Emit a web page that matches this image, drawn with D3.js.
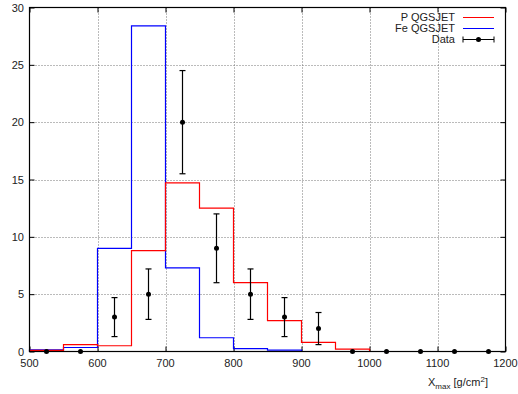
<!DOCTYPE html>
<html>
<head>
<meta charset="utf-8">
<script src="https://cdn.jsdelivr.net/npm/d3@7"></script>
<style>
  body { margin: 0; background: #fff; }
  svg text { font-family: "Liberation Sans", Arial, sans-serif; font-size: 11px; fill: #222; }
</style>
</head>
<body>
<svg id="chart" width="518" height="394"></svg>
<script>
// bin edges (g/cm2), 50 wide
const binEdges = [500, 550, 600, 650, 700, 750, 800, 850, 900, 950, 1000, 1050, 1100, 1150, 1200];
const pQgsjet  = [0.1, 0.6, 0.5, 8.8, 14.7, 12.5, 6.0, 2.7, 0.8, 0.2, 0, 0, 0, 0];
const feQgsjet = [0.15, 0.35, 9.0, 28.4, 7.3, 1.2, 0.25, 0.12, 0, 0, 0, 0, 0, 0];
// data points at bin centres
const dataX    = [525, 575, 625, 675, 725, 775, 825, 875, 925, 975, 1025, 1075, 1125, 1175];
const dataY    = [0, 0, 3, 5, 20, 9, 5, 3, 2, 0, 0, 0, 0, 0];
const dataLow  = [0, 0, 1.3, 2.8, 15.5, 6.0, 2.8, 1.3, 0.6, 0, 0, 0, 0, 0];
const dataHigh = [0, 0, 4.7, 7.2, 24.5, 12.0, 7.2, 4.7, 3.4, 0, 0, 0, 0, 0];
const xTicks = [500, 600, 700, 800, 900, 1000, 1100, 1200];
const yTicks = [0, 5, 10, 15, 20, 25, 30];

const svg = d3.select("#chart");
const mLeft = 29.5, mRight = 505.5, mTop = 7.5, mBottom = 351.5;

const x = d3.scaleLinear().domain([500, 1200]).range([mLeft, mRight]);
const y = d3.scaleLinear().domain([0, 30]).range([mBottom, mTop]);

// grid
const grid = svg.append("g").attr("stroke", "#777").attr("stroke-width", 1).attr("stroke-dasharray", "1,2");
grid.selectAll("line.gx").data(xTicks.slice(1, -1)).enter().append("line")
  .attr("x1", d => Math.round(x(d)) + 0.5).attr("x2", d => Math.round(x(d)) + 0.5)
  .attr("y1", mTop).attr("y2", mBottom);
grid.selectAll("line.gy").data(yTicks.slice(1, -1)).enter().append("line")
  .attr("y1", d => Math.round(y(d)) + 0.5).attr("y2", d => Math.round(y(d)) + 0.5)
  .attr("x1", mLeft).attr("x2", mRight);

// axes (ticks pointing inward, mirrored)
const axB = svg.append("g").attr("transform", "translate(0," + mBottom + ")")
  .call(d3.axisTop(x).tickValues(xTicks).tickSize(5).tickFormat(""));
const axT = svg.append("g").attr("transform", "translate(0," + mTop + ")")
  .call(d3.axisBottom(x).tickValues(xTicks).tickSize(5).tickFormat(""));
const axL = svg.append("g").attr("transform", "translate(" + mLeft + ",0)")
  .call(d3.axisRight(y).tickValues(yTicks).tickSize(5).tickFormat(""));
const axR = svg.append("g").attr("transform", "translate(" + mRight + ",0)")
  .call(d3.axisLeft(y).tickValues(yTicks).tickSize(5).tickFormat(""));
[axB, axT, axL, axR].forEach(a => { a.select(".domain").remove(); a.selectAll("line").attr("stroke", "#000"); });

// tick labels
svg.selectAll("text.xl").data(xTicks).enter().append("text")
  .attr("x", d => x(d)).attr("y", 367).attr("text-anchor", "middle").text(d => d);
svg.selectAll("text.yl").data(yTicks).enter().append("text")
  .attr("x", 24).attr("y", d => y(d) + 4).attr("text-anchor", "end").text(d => d);

// histograms as steps
function stepLine(vals) {
  const pts = [[binEdges[0], 0]];
  vals.forEach((v, i) => { pts.push([binEdges[i], v]); pts.push([binEdges[i + 1], v]); });
  return d3.line().x(d => x(d[0])).y(d => y(d[1]))(pts);
}
svg.append("path").attr("d", stepLine(feQgsjet)).attr("fill", "none").attr("stroke", "#0000ff").attr("stroke-width", 1.2);
svg.append("path").attr("d", stepLine(pQgsjet)).attr("fill", "none").attr("stroke", "#ff0000").attr("stroke-width", 1.2);

// data with error bars
const pts = svg.append("g");
dataX.forEach((dx, i) => {
  const cx = x(dx);
  if (dataHigh[i] > dataLow[i]) {
    pts.append("line").attr("x1", cx).attr("x2", cx).attr("y1", y(dataLow[i])).attr("y2", y(dataHigh[i])).attr("stroke", "#000").attr("stroke-width", 1.2);
    [dataLow[i], dataHigh[i]].forEach(v => pts.append("line").attr("x1", cx - 3).attr("x2", cx + 3)
      .attr("y1", y(v)).attr("y2", y(v)).attr("stroke", "#000").attr("stroke-width", 1.2));
  }
  pts.append("circle").attr("cx", cx).attr("cy", y(dataY[i])).attr("r", 2.5).attr("fill", "#000");
});

// frame
svg.append("rect").attr("x", mLeft).attr("y", mTop).attr("width", mRight - mLeft).attr("height", mBottom - mTop)
  .attr("fill", "none").attr("stroke", "#000").attr("stroke-width", 1.2);

// legend
const lg = svg.append("g");
lg.append("text").attr("x", 455).attr("y", 21).attr("text-anchor", "end").text("P QGSJET");
lg.append("line").attr("x1", 463).attr("x2", 494).attr("y1", 17.5).attr("y2", 17.5).attr("stroke", "#ff0000");
lg.append("text").attr("x", 455).attr("y", 32).attr("text-anchor", "end").text("Fe QGSJET");
lg.append("line").attr("x1", 463).attr("x2", 494).attr("y1", 28.5).attr("y2", 28.5).attr("stroke", "#0000ff");
lg.append("text").attr("x", 455).attr("y", 43).attr("text-anchor", "end").text("Data");
lg.append("line").attr("x1", 463).attr("x2", 494).attr("y1", 39.5).attr("y2", 39.5).attr("stroke", "#000");
[463, 494].forEach(v => lg.append("line").attr("x1", v).attr("x2", v).attr("y1", 36.5).attr("y2", 42.5).attr("stroke", "#000"));
lg.append("circle").attr("cx", 478.5).attr("cy", 39.5).attr("r", 2.5).attr("fill", "#000");

// x axis title
const t = svg.append("text").attr("x", 428).attr("y", 386);
t.append("tspan").text("X");
t.append("tspan").attr("dy", 3).attr("font-size", "8px").text("max");
t.append("tspan").attr("dy", -3).text(" [g/cm");
t.append("tspan").attr("dy", -4).attr("font-size", "8px").text("2");
t.append("tspan").attr("dy", 4).text("]");
</script>
</body>
</html>
